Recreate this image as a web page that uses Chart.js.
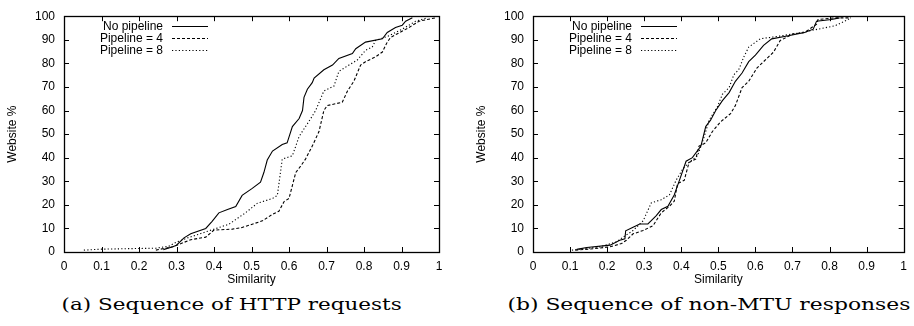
<!DOCTYPE html>
<html>
<head>
<meta charset="utf-8">
<script src="https://cdn.jsdelivr.net/npm/chart.js@4"></script>
<style>
  html, body { margin: 0; padding: 0; background: #fff; overflow: hidden; }
  body { width: 914px; height: 326px; position: relative; }
  .panel { position: absolute; top: 0; }
  .caption { position: absolute; top: 292px; height: 24px; line-height: 24px; text-align: center;
             font-family: "DejaVu Serif", serif; font-size: 17px; color: #000; white-space: nowrap; }
  .caption span { display: inline-block; transform-origin: 50% 50%; }
</style>
</head>
<body>
<canvas id="httpChart" class="panel" width="457" height="290" style="left:0px"></canvas>
<canvas id="mtuChart" class="panel" width="445" height="290" style="left:469px"></canvas>
<div class="caption" style="left:62px;width:340px"><span>(a) Sequence of HTTP requests</span></div>
<div class="caption" style="left:507px;width:403px"><span>(b) Sequence of non-MTU responses</span></div>
<script>
const seriesLabels = ['No pipeline', 'Pipeline = 4', 'Pipeline = 8'];
const xTickValues = [0, 0.1, 0.2, 0.3, 0.4, 0.5, 0.6, 0.7, 0.8, 0.9, 1];
const xTickLabels = ['0', '0.1', '0.2', '0.3', '0.4', '0.5', '0.6', '0.7', '0.8', '0.9', '1'];
const yTickValues = [0, 10, 20, 30, 40, 50, 60, 70, 80, 90, 100];
const yTickLabels = ['0', '10', '20', '30', '40', '50', '60', '70', '80', '90', '100'];

// (a) HTTP requests
const httpNoPipeX = [0.265, 0.29, 0.30, 0.32, 0.338, 0.378, 0.395, 0.413, 0.436, 0.458, 0.475, 0.502, 0.524, 0.533, 0.542, 0.556, 0.582, 0.595, 0.609, 0.627, 0.636, 0.64, 0.649, 0.662, 0.667, 0.693, 0.716, 0.733, 0.769, 0.778, 0.804, 0.849, 0.862, 0.884, 0.902, 0.911, 0.929];
const httpNoPipeY = [1, 2.2, 2.9, 6, 7.7, 10, 13, 16.6, 18, 19.3, 24, 27, 29.6, 33.7, 39, 42.8, 45.6, 46.3, 53.2, 56.6, 60, 65.6, 69, 71.8, 73.8, 77.3, 79.3, 82.1, 84.2, 86.2, 89, 90.4, 93.1, 95.2, 96.2, 97.9, 99.3];
const httpPipe4X = [0.245, 0.29, 0.338, 0.378, 0.40, 0.449, 0.475, 0.529, 0.556, 0.573, 0.587, 0.60, 0.618, 0.631, 0.644, 0.662, 0.68, 0.693, 0.702, 0.742, 0.756, 0.773, 0.791, 0.804, 0.831, 0.849, 0.862, 0.871, 0.92, 0.947, 0.99];
const httpPipe4Y = [0.8, 2.2, 5.2, 6.3, 9.3, 9.7, 10.4, 13.2, 16, 17.3, 21.4, 22.7, 33.7, 36.4, 39.4, 44.9, 51.1, 60, 62.1, 63.5, 68.3, 72.4, 79.3, 80.7, 82.8, 84.8, 89, 91, 95.2, 97.9, 99.3];
const httpPipe8X = [0.053, 0.10, 0.20, 0.245, 0.28, 0.30, 0.33, 0.387, 0.44, 0.484, 0.516, 0.556, 0.569, 0.582, 0.609, 0.627, 0.658, 0.671, 0.693, 0.72, 0.733, 0.76, 0.782, 0.804, 0.822, 0.831, 0.867, 0.902, 0.938, 0.969];
const httpPipe8Y = [0.8, 1.2, 1.5, 1.6, 2.5, 4.2, 6, 9, 11.8, 16.6, 20.7, 22.7, 24, 39.4, 40.8, 49, 56.6, 60, 68.3, 70.4, 76.6, 79.3, 81.4, 85.5, 86.9, 89.7, 91.7, 94.5, 97.9, 99.3];

// (b) non-MTU responses
const mtuNoPipeX = [0.118, 0.145, 0.208, 0.234, 0.248, 0.25, 0.27, 0.288, 0.31, 0.332, 0.346, 0.364, 0.381, 0.395, 0.413, 0.43, 0.453, 0.466, 0.479, 0.493, 0.511, 0.529, 0.546, 0.564, 0.582, 0.6, 0.622, 0.644, 0.689, 0.733, 0.756, 0.765, 0.805, 0.827];
const mtuNoPipeY = [1.1, 1.9, 2.9, 5, 5.6, 9, 10.5, 11.9, 11.9, 15.3, 18, 19.4, 24.2, 30.4, 38.5, 40, 44.9, 53.2, 55.9, 60, 64.2, 67.6, 72.4, 75.9, 80.7, 83.5, 87.6, 90.4, 91.7, 93.1, 94.5, 97.9, 98.6, 99.3];
const mtuPipe4X = [0.114, 0.163, 0.208, 0.239, 0.252, 0.27, 0.297, 0.324, 0.346, 0.368, 0.381, 0.39, 0.408, 0.421, 0.439, 0.448, 0.466, 0.484, 0.506, 0.533, 0.546, 0.564, 0.582, 0.604, 0.622, 0.649, 0.667, 0.702, 0.733, 0.765, 0.769, 0.814, 0.858];
const mtuPipe4Y = [0.8, 1.4, 2.2, 3.6, 5, 7.7, 9.1, 11.2, 16.6, 19.4, 21.5, 29, 30.4, 38, 39.4, 44.9, 46.3, 51.1, 55.2, 58.7, 62.1, 69.7, 72.4, 78, 80.7, 84.8, 89.7, 92.5, 93.1, 96.6, 98.6, 99.3, 99.3];
const mtuPipe8X = [0.105, 0.181, 0.225, 0.243, 0.27, 0.297, 0.319, 0.346, 0.368, 0.386, 0.404, 0.421, 0.444, 0.462, 0.475, 0.497, 0.511, 0.529, 0.542, 0.555, 0.569, 0.582, 0.613, 0.671, 0.725, 0.769, 0.814, 0.841, 0.858];
const mtuPipe8Y = [0.8, 2.2, 4.3, 6.3, 9.1, 13.2, 20.8, 22.2, 24.2, 30.4, 35.2, 38, 40.8, 49, 55.9, 61.4, 66.9, 69.7, 75.2, 77.3, 82.8, 86.9, 90.4, 91.7, 93.1, 94.5, 95.9, 97.9, 99.3];

const dashes = [[], [3, 2], [1.2, 2.2]];
const font = { family: '"Liberation Sans", Arial, sans-serif', size: 12 };

function points(xs, ys) {
  return xs.map((x, i) => ({ x: x, y: ys[i] }));
}

// gnuplot-like frame, inward ticks on all four sides, and key in the top left
const gnuplotFrame = {
  id: 'gnuplotFrame',
  afterDatasetsDraw(chart) {
    const { ctx, chartArea: a, scales } = chart;
    ctx.save();
    ctx.strokeStyle = '#000';
    ctx.lineWidth = 1;
    ctx.setLineDash([]);
    ctx.beginPath();
    xTickValues.forEach(v => {
      const px = Math.round(scales.x.getPixelForValue(v)) + 0.5;
      ctx.moveTo(px, a.bottom); ctx.lineTo(px, a.bottom - 5);
      ctx.moveTo(px, a.top); ctx.lineTo(px, a.top + 5);
    });
    yTickValues.forEach(v => {
      const py = Math.round(scales.y.getPixelForValue(v)) + 0.5;
      ctx.moveTo(a.left, py); ctx.lineTo(a.left + 5, py);
      ctx.moveTo(a.right, py); ctx.lineTo(a.right - 5, py);
    });
    ctx.stroke();
    ctx.lineWidth = 1.3;
    ctx.strokeRect(Math.round(a.left) + 0.5, Math.round(a.top) + 0.5, Math.round(a.right - a.left), Math.round(a.bottom - a.top));

    // key
    ctx.font = '12px ' + font.family;
    ctx.fillStyle = '#000';
    ctx.textAlign = 'right';
    ctx.textBaseline = 'middle';
    chart.data.datasets.forEach((ds, i) => {
      const y = a.top + 10 + i * 12;
      ctx.fillText(ds.label, a.left + 99, y);
      ctx.beginPath();
      ctx.lineWidth = 1;
      ctx.setLineDash(ds.borderDash || []);
      ctx.moveTo(a.left + 108, Math.round(y) + 0.5);
      ctx.lineTo(a.left + 144, Math.round(y) + 0.5);
      ctx.stroke();
    });
    ctx.restore();
  }
};

function makeChart(id, series, rightPad) {
  return new Chart(document.getElementById(id), {
    type: 'line',
    data: {
      datasets: series.map((s, i) => ({
        label: seriesLabels[i],
        data: points(s[0], s[1]),
        borderColor: '#000',
        borderWidth: 1.1,
        borderDash: dashes[i],
        pointRadius: 0,
        tension: 0,
        fill: false
      }))
    },
    options: {
      responsive: false,
      animation: false,
      layout: { padding: { left: 0, right: rightPad, top: 10, bottom: 0 } },
      plugins: { legend: { display: false }, tooltip: { enabled: false } },
      scales: {
        x: {
          type: 'linear', min: 0, max: 1,
          afterBuildTicks: sc => { sc.ticks = xTickValues.map(v => ({ value: v })); },
          afterFit: sc => { sc.height = 38; },
          grid: { display: false, drawTicks: false },
          border: { display: false },
          ticks: { padding: 7, color: '#000', font: font, maxRotation: 0, autoSkip: false,
                   callback: (v, i) => xTickLabels[i] },
          title: { display: true, text: 'Similarity', color: '#000', font: font, padding: { bottom: 3 } }
        },
        y: {
          type: 'linear', min: 0, max: 100,
          afterBuildTicks: sc => { sc.ticks = yTickValues.map(v => ({ value: v })); },
          afterFit: sc => { sc.width = 64; },
          grid: { display: false, drawTicks: false },
          border: { display: false },
          ticks: { padding: 9, color: '#000', font: font, autoSkip: false,
                   callback: (v, i) => yTickLabels[i] },
          title: { display: true, text: 'Website %', color: '#000', font: font, padding: { top: 5 } }
        }
      }
    },
    plugins: [gnuplotFrame]
  });
}

makeChart('httpChart', [[httpNoPipeX, httpNoPipeY], [httpPipe4X, httpPipe4Y], [httpPipe8X, httpPipe8Y]], 18);
makeChart('mtuChart', [[mtuNoPipeX, mtuNoPipeY], [mtuPipe4X, mtuPipe4Y], [mtuPipe8X, mtuPipe8Y]], 6);

document.querySelectorAll('.caption').forEach(el => {
  const span = el.querySelector('span');
  const k = el.clientWidth / span.getBoundingClientRect().width;
  span.style.transform = 'scaleX(' + k.toFixed(3) + ')';
});
</script>
</body>
</html>
